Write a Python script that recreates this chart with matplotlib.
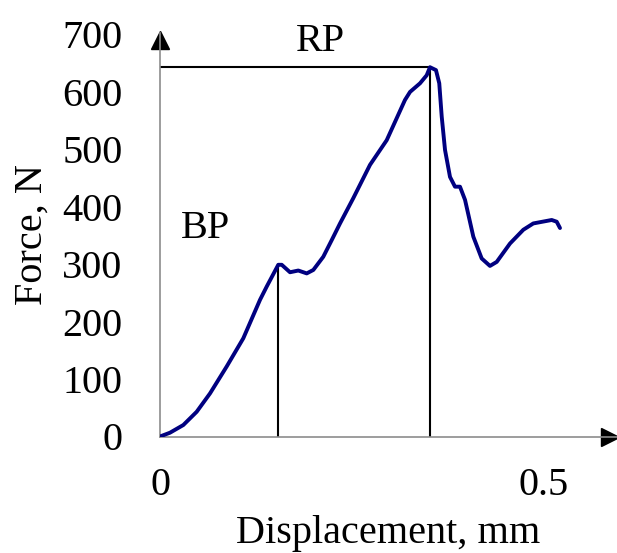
import numpy as np
import matplotlib.pyplot as plt
import matplotlib as mpl
from matplotlib.transforms import offset_copy

mpl.rcParams['font.family'] = 'serif'
mpl.rcParams['font.serif'] = ['Liberation Serif', 'DejaVu Serif']
mpl.rcParams['font.size'] = 29

# force-displacement curve
disp = [0.0, 0.013, 0.0304, 0.0478, 0.0652, 0.087, 0.1086, 0.1304, 0.1391,
        0.1542, 0.1587, 0.1695, 0.1803, 0.1913, 0.1999, 0.2129, 0.2239,
        0.2347, 0.252, 0.2738, 0.2956, 0.3194, 0.326, 0.339, 0.3477, 0.352,
        0.3598, 0.3641, 0.3673, 0.3716, 0.3781, 0.3846, 0.3911, 0.3977,
        0.4085, 0.4194, 0.4302, 0.439, 0.4563, 0.4737, 0.4867, 0.5107,
        0.5172, 0.5215]
force = [0, 6.6, 20, 43, 75, 122, 171, 238, 261,
         299, 299, 286, 289, 284, 290, 313, 342,
         371, 415, 473, 516, 586, 600, 615, 629, 643,
         638, 615, 557, 499, 452, 435, 435, 412,
         348, 310, 297, 304, 336, 360, 371, 377,
         374, 363]

bp_x, bp_y = 0.1538, 299
rp_x, rp_y = 0.352, 643
xticks = [0, 0.5]
xticklabels = ['0', '0.5']
yticks = [0, 100, 200, 300, 400, 500, 600, 700]

W, H = 617, 553
fig = plt.figure(figsize=(W / 100, H / 100), dpi=100)
x0, y0 = 160, 436.5
ax = fig.add_axes([x0 / W, (H - y0) / H, (W - x0) / W, (y0 - 33) / H])

ax.plot(disp, force, color='#000080', lw=2.8, solid_capstyle='round',
        solid_joinstyle='round', zorder=3)
ax.plot([bp_x, bp_x], [0, bp_y], color='black', lw=1.5)
ax.plot([rp_x, rp_x], [0, rp_y], color='black', lw=1.5)
ax.plot([0, rp_x], [rp_y, rp_y], color='black', lw=1.5)

ax.text(0.0587, 363, 'BP', ha='center', va='center')
ax.text(0.2086, 687, 'RP', ha='center', va='center')

ax.set_xlim(0, (W - x0) / 767)
ax.set_ylim(0, (y0 - 33) / 0.5743)
ax.set_xticks(xticks)
ax.set_xticklabels(xticklabels)
ax.set_yticks(yticks)
ax.tick_params(length=0)
ax.tick_params(axis='x', pad=22)
ax.tick_params(axis='y', pad=27)

for s in ['top', 'right']:
    ax.spines[s].set_visible(False)
for s in ['left', 'bottom']:
    ax.spines[s].set_color('#8c8c8c')
    ax.spines[s].set_linewidth(1.2)

# arrow heads
ax.plot(1, 0, '>', color='black', ms=13, clip_on=False,
        transform=offset_copy(ax.transAxes, fig, x=-7, y=0, units='dots'))
ax.plot(0, 1, '^', color='black', ms=13, clip_on=False,
        transform=offset_copy(ax.transAxes, fig, x=0, y=-7, units='dots'))

ax.set_xlabel('Displacement, mm', labelpad=8)
ax.set_ylabel('Force, N', labelpad=8)

fig.savefig('out.png', dpi=100)
